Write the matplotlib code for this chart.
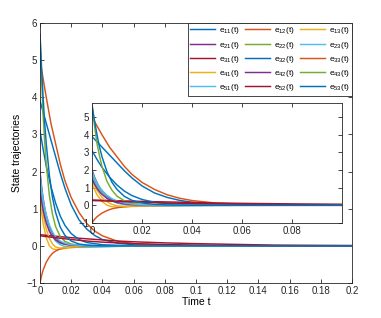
import matplotlib
matplotlib.use("Agg")
import matplotlib.pyplot as plt

plt.rcParams['font.family'] = ['Liberation Sans', 'DejaVu Sans']
plt.rcParams['mathtext.default'] = 'regular'

# colori di default stile MATLAB
BLU = '#0072BD'
ARANCIO = '#D95319'
GIALLO = '#EDB120'
VIOLA = '#7E2F8E'
VERDE = '#77AC30'
AZZURRO = '#4DBEEE'
ROSSO = '#A2142F'

# traiettorie: (tempi, valori)
t11 = [0, 0.002, 0.004, 0.007, 0.01, 0.013, 0.016, 0.02, 0.025, 0.03, 0.035, 0.04, 0.05, 0.06, 0.08, 0.1, 0.2]
e11 = [3.9, 3.6, 3.3, 2.85, 2.4, 1.95, 1.55, 1.1, 0.7, 0.45, 0.28, 0.17, 0.07, 0.03, 0.01, 0, 0]

t12 = [0, 0.002, 0.004, 0.007, 0.01, 0.013, 0.016, 0.02, 0.025, 0.03, 0.035, 0.04, 0.05, 0.06, 0.08, 0.1, 0.2]
e12 = [5.0, 4.5, 4.0, 3.3, 2.75, 2.2, 1.75, 1.3, 0.9, 0.6, 0.4, 0.27, 0.12, 0.06, 0.02, 0.01, 0]

t13 = [0, 0.002, 0.004, 0.006, 0.008, 0.01, 0.013, 0.016, 0.02, 0.025, 0.03, 0.04, 0.2]
e13 = [1.2, 0.6, 0.22, 0.0, -0.08, -0.1, -0.09, -0.07, -0.05, -0.03, -0.015, 0, 0]

t21 = [0, 0.001, 0.002, 0.003, 0.004, 0.006, 0.008, 0.01, 0.013, 0.016, 0.02, 0.03, 0.04, 0.2]
e21 = [2.0, 1.6, 1.28, 1.02, 0.82, 0.52, 0.33, 0.21, 0.11, 0.06, 0.03, 0.01, 0, 0]

t22 = [0, 0.001, 0.002, 0.003, 0.004, 0.006, 0.008, 0.01, 0.013, 0.016, 0.02, 0.03, 0.2]
e22 = [1.8, 1.42, 1.12, 0.88, 0.69, 0.42, 0.26, 0.16, 0.08, 0.04, 0.02, 0, 0]

t23 = [0, 0.001, 0.002, 0.003, 0.004, 0.006, 0.008, 0.01, 0.013, 0.016, 0.02, 0.03, 0.04, 0.05, 0.06, 0.08, 0.2]
e23 = [1.6, 1.3, 1.05, 0.85, 0.68, 0.42, 0.25, 0.13, 0.03, -0.02, -0.04, -0.04, -0.03, -0.015, -0.005, 0, 0]

t31 = [0, 0.01, 0.02, 0.03, 0.04, 0.05, 0.06, 0.08, 0.1, 0.15, 0.2]
e31 = [0.30, 0.26, 0.22, 0.19, 0.16, 0.13, 0.11, 0.08, 0.06, 0.02, 0.01]

t32 = [0, 0.002, 0.004, 0.007, 0.01, 0.013, 0.016, 0.02, 0.025, 0.03, 0.04, 0.06, 0.2]
e32 = [3.1, 2.6, 2.15, 1.6, 1.15, 0.8, 0.55, 0.33, 0.17, 0.09, 0.03, 0, 0]

t33 = [0, 0.001, 0.002, 0.004, 0.006, 0.008, 0.01, 0.013, 0.016, 0.02, 0.03, 0.04, 0.2]
e33 = [-1.0, -0.8, -0.65, -0.44, -0.3, -0.2, -0.14, -0.08, -0.05, -0.03, -0.01, 0, 0]

t41 = [0, 0.002, 0.004, 0.006, 0.008, 0.01, 0.013, 0.016, 0.02, 0.03, 0.04, 0.2]
e41 = [1.4, 0.85, 0.45, 0.2, 0.05, -0.03, -0.06, -0.05, -0.03, -0.01, 0, 0]

t42 = [0, 0.001, 0.002, 0.003, 0.004, 0.006, 0.008, 0.01, 0.013, 0.016, 0.02, 0.03, 0.2]
e42 = [1.5, 1.2, 0.96, 0.77, 0.62, 0.39, 0.25, 0.16, 0.08, 0.04, 0.02, 0, 0]

t43 = [0, 0.001, 0.002, 0.003, 0.004, 0.006, 0.008, 0.01, 0.013, 0.016, 0.02, 0.025, 0.03, 0.2]
e43 = [5.7, 4.5, 3.5, 2.8, 2.2, 1.35, 0.85, 0.52, 0.25, 0.12, 0.05, 0.02, 0, 0]

t51 = [0, 0.001, 0.002, 0.003, 0.004, 0.006, 0.008, 0.01, 0.013, 0.016, 0.02, 0.03, 0.04, 0.2]
e51 = [1.9, 1.55, 1.26, 1.03, 0.84, 0.56, 0.37, 0.24, 0.13, 0.07, 0.03, 0.01, 0, 0]

t52 = [0, 0.01, 0.02, 0.03, 0.04, 0.06, 0.08, 0.1, 0.15, 0.2]
e52 = [0.27, 0.22, 0.17, 0.13, 0.10, 0.06, 0.035, 0.02, 0.005, 0]

t53 = [0, 0.001, 0.002, 0.003, 0.004, 0.006, 0.008, 0.01, 0.013, 0.016, 0.02, 0.025, 0.03, 0.04, 0.2]
e53 = [5.7, 4.8, 4.0, 3.3, 2.75, 1.9, 1.3, 0.9, 0.5, 0.28, 0.13, 0.05, 0.02, 0, 0]

serie = [
    ('11', t11, e11, BLU), ('12', t12, e12, ARANCIO), ('13', t13, e13, GIALLO),
    ('21', t21, e21, VIOLA), ('22', t22, e22, VERDE), ('23', t23, e23, AZZURRO),
    ('31', t31, e31, ROSSO), ('32', t32, e32, BLU), ('33', t33, e33, ARANCIO),
    ('41', t41, e41, GIALLO), ('42', t42, e42, VIOLA), ('43', t43, e43, VERDE),
    ('51', t51, e51, AZZURRO), ('52', t52, e52, ROSSO), ('53', t53, e53, BLU),
]

x_ticks = [0, 0.02, 0.04, 0.06, 0.08, 0.1, 0.12, 0.14, 0.16, 0.18, 0.2]
y_ticks = [-1, 0, 1, 2, 3, 4, 5, 6]
x_ticks_zoom = [0, 0.02, 0.04, 0.06, 0.08]
y_ticks_zoom = [-1, 0, 1, 2, 3, 4, 5]


def stile_assi(ax):
    for s in ax.spines.values():
        s.set_linewidth(0.6)
        s.set_color('#262626')
    ax.tick_params(direction='in', top=True, right=True, length=3, width=0.6,
                   labelsize=7, colors='#262626', pad=2)


fig = plt.figure(figsize=(3.81, 3.18), dpi=100)
ax = fig.add_axes([0.105, 0.110, 0.819, 0.818])
linee = []
for nome, t, v, c in serie:
    l, = ax.plot(t, v, color=c, lw=1.05, label='$e_{%s}(t)$' % nome)
    linee.append(l)
ax.set_xlim(0, 0.2)
ax.set_ylim(-1, 6)
ax.set_xticks(x_ticks)
ax.set_xticklabels(['0', '0.02', '0.04', '0.06', '0.08', '0.1', '0.12', '0.14', '0.16', '0.18', '0.2'])
ax.set_yticks(y_ticks)
ax.set_xlabel('Time t', fontsize=7.5, labelpad=1)
ax.set_ylabel('State trajectories', fontsize=7.5, labelpad=3)
stile_assi(ax)

# legenda riempita per righe (3 colonne)
ordine = [r * 3 + c for c in range(3) for r in range(5)]
maniglie = [linee[i] for i in ordine]
etichette = [linee[i].get_label() for i in ordine]
leg = ax.legend(maniglie, etichette, ncol=3, loc='upper right', bbox_to_anchor=(1, 1),
                borderaxespad=0, fontsize=6, handlelength=3.0, columnspacing=0.7,
                handletextpad=0.4, labelspacing=0.38, fancybox=False, framealpha=1,
                borderpad=0.3)
leg.get_frame().set_edgecolor('#262626')
leg.get_frame().set_linewidth(0.6)

# 2. riquadro ingrandito
axz = fig.add_axes([0.2415, 0.299, 0.656, 0.377])
for nome, t, v, c in serie:
    axz.plot(t, v, color=c, lw=1.05)
axz.set_xlim(0, 0.1)
axz.set_ylim(-1, 5.8)
axz.set_xticks(x_ticks_zoom)
axz.set_xticklabels(['0', '0.02', '0.04', '0.06', '0.08'])
axz.set_yticks(y_ticks_zoom)
stile_assi(axz)

fig.savefig('out.png', dpi=100)
